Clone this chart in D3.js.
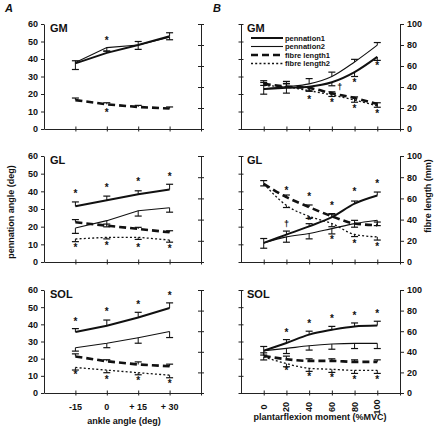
<!DOCTYPE html>
<html><head><meta charset="utf-8">
<script src="https://cdn.jsdelivr.net/npm/d3@7"></script>
<style>
body{margin:0;background:#fff;}
text{font-family:"Liberation Sans",Arial,sans-serif;fill:#111;}
</style></head><body><svg id="c" width="434" height="429"></svg>
<script>
// ---------- data ----------
const anglesA = [-15, 0, 15, 30];
const momentsB = [0, 20, 40, 60, 80, 100];
const muscles = ["GM", "GL", "SOL"];
const seriesNames = ["pennation1", "pennation2", "fibre length1", "fibre length2"];
const angleTickLabels = ["-15", "0", "+ 15", "+ 30"];
const momentTickLabels = ["0", "20", "40", "60", "80", "100"];

// Panel A (ankle angle) — pennation in deg, fibre length in mm
const gmA_pen1 = [37.5, 43.5, 48, 53];
const gmA_pen2 = [38, 46.5, 48, 52.5];
const gmA_fib1 = [27.5, 23.5, 21, 19.5];
const gmA_fib2 = null;
const gmA_pen1E = [1.5, 1, 2, 2];
const gmA_pen2E = [-4, -2, -2.5, -1.5];
const gmA_fib1E = [2, 1.5, 1.5, 1.5];
const gmA_fib2E = null;
const gmA_starPen = [null, 51.5, null, null];
const gmA_starFib = [null, 17, null, null];

const glA_pen1 = [31.5, 35, 38.3, 41];
const glA_pen2 = [19.2, 23.4, 29, 30.7];
const glA_fib1 = [37.5, 34.3, 31.2, 28];
const glA_fib2 = [21.7, 23.3, 23.3, 20.7];
const glA_pen1E = [2.5, 2.3, 2, 3];
const glA_pen2E = [-3, -3.5, -3, -2.5];
const glA_fib1E = [2.5, 1.5, 1.5, 1.5];
const glA_fib2E = [-2.5, -1.5, -2, -2];
const glA_starPen = [39.6, 43, 46.5, 49.5];
const glA_starFib = [14.7, 17.2, 15.3, 14.2];

const solA_pen1 = [35.5, 39.2, 44, 49.5];
const solA_pen2 = [26.4, 29, 32.2, 35.8];
const solA_fib1 = [35.5, 30.8, 27.7, 26];
const solA_fib2 = [24.8, 22.2, 19.7, 17.3];
const solA_pen1E = [2, 3.3, 3, 3];
const solA_pen2E = [-2, -2.6, -3.2, -3.5];
const solA_fib1E = [2.5, 1.5, 2.5, 2];
const solA_fib2E = [-2.5, -2.5, -2, -2.5];
const solA_starPen = [42.6, 48.4, 52.2, 57.7];
const solA_starFib = [19, 14.8, 13.2, 10.8];

// Panel B (plantarflexion moment)
const gmB_pen1 = [22.9, 23.5, 24.2, 26.7, 32.5, 41.2];
const gmB_pen2 = [22.9, 24.2, 25.8, 30, 38.3, 47.9];
const gmB_fib1 = [43, 40.4, 39, 34, 29.5, 23.7];
const gmB_fib2 = [41.3, 40, 36.5, 32.4, 27.6, 22];
const gmB_pen1E = [-3, -3, -2.5, -2, -2.5, -2];
const gmB_pen2E = [2, 3, 3, 2.5, 1.5, 1.5];
const gmB_fib1E = [3, 3, -3, -3, -4, -3];
const gmB_fib2E = [3, 3, 3, 3, 3, 3];
const gmB_starPen = [null, null, null, null, 27.7, 37.3];
const gmB_starFib = [null, null, 30, 27, 21, 16.3];
const gmB_dagger = [67, 41];

const glB_pen1 = [10.8, 15.5, 20.2, 25.4, 33, 37.6];
const glB_pen2 = [10.8, 14.2, 16.1, 18.9, 21.7, 23.6];
const glB_fib1 = [73.8, 61.2, 51.8, 43.1, 36.3, 34.7];
const glB_fib2 = [73.8, 53.4, 43.1, 36.3, 26, 23.7];
const glB_pen1E = [-3, 2, 1.5, 2, 1.5, 2];
const glB_pen2E = [2.5, -3, -3, -3, -2, -3];
const glB_fib1E = [3, 2, 2, 2, 3, 3];
const glB_fib2E = [-2, -2, -2, -3, -2, -3];
const glB_starPen = [null, null, null, null, null, null];
const glB_starFib = [null, 69, 62.8, 55, 67.5, 75.3];
const glB_starFib2 = [null, null, 41, 22.2, 19, 16];
const glB_dagger = [20, 36.8];

const solB_pen1 = [24.6, 29.1, 34, 36.8, 38.8, 39.3];
const solB_pen2 = [24.6, 26, 27.5, 28.5, 28.9, 28.9];
const solB_fib1 = [36, 32.8, 31.2, 31.2, 30.2, 30.2];
const solB_fib2 = [35.1, 28.5, 24, 23, 22, 22];
const solB_pen1E = [2.5, 2, 2, 2, 2, 2.5];
const solB_pen2E = [-2.5, -3, -2.5, -3, -3, -3];
const solB_fib1E = [3, 3, 2, 2, 2, 2];
const solB_fib2E = [-3, -3, -3, -3, -3, -3];
const solB_starPen = [null, null, null, null, null, null];
const solB_starFib = [null, 60, 68.8, 73.7, 77, 78.7];
const solB_starFib2 = [null, 23, 17.4, 16.4, 14.2, 14.2];

const penTicks = [0, 10, 20, 30, 40, 50, 60];
const fibTicks = [0, 20, 40, 60, 80, 100];

// ---------- drawing ----------
const svg = d3.select("#c");
const rows = [{top: 24, bot: 129}, {top: 156, bot: 262}, {top: 290, bot: 393}];
const xA = d3.scaleLinear().domain([-30, 45]).range([44, 201]);
const xB = d3.scaleLinear().domain([-20, 120]).range([241, 400]);

const styles = [
  {w: 2, dash: null},
  {w: 1.1, dash: null},
  {w: 2.6, dash: "7,4"},
  {w: 1.3, dash: "2,2.2"}
];

const panelsA = [
  {name: "GM", s: [gmA_pen1, gmA_pen2, gmA_fib1, gmA_fib2], e: [gmA_pen1E, gmA_pen2E, gmA_fib1E, gmA_fib2E], starPen: gmA_starPen, starFib: gmA_starFib},
  {name: "GL", s: [glA_pen1, glA_pen2, glA_fib1, glA_fib2], e: [glA_pen1E, glA_pen2E, glA_fib1E, glA_fib2E], starPen: glA_starPen, starFib: glA_starFib},
  {name: "SOL", s: [solA_pen1, solA_pen2, solA_fib1, solA_fib2], e: [solA_pen1E, solA_pen2E, solA_fib1E, solA_fib2E], starPen: solA_starPen, starFib: solA_starFib}
];
const panelsB = [
  {name: "GM", s: [gmB_pen1, gmB_pen2, gmB_fib1, gmB_fib2], e: [gmB_pen1E, gmB_pen2E, gmB_fib1E, gmB_fib2E], starPen: gmB_starPen, starFib: gmB_starFib, starFib2: null, dagger: gmB_dagger},
  {name: "GL", s: [glB_pen1, glB_pen2, glB_fib1, glB_fib2], e: [glB_pen1E, glB_pen2E, glB_fib1E, glB_fib2E], starPen: glB_starPen, starFib: glB_starFib, starFib2: glB_starFib2, dagger: glB_dagger},
  {name: "SOL", s: [solB_pen1, solB_pen2, solB_fib1, solB_fib2], e: [solB_pen1E, solB_pen2E, solB_fib1E, solB_fib2E], starPen: solB_starPen, starFib: solB_starFib, starFib2: solB_starFib2, dagger: null}
];

function styleAxis(g) {
  g.select(".domain").attr("stroke", "#222").attr("stroke-width", 1);
  g.selectAll(".tick line").attr("stroke", "#222");
  g.selectAll(".tick text").attr("font-size", 9).attr("font-weight", "bold")
    .attr("font-family", "Liberation Sans, Arial, sans-serif").attr("fill", "#111");
}

function drawPanel(p, i, isB) {
  const r = rows[i];
  const x = isB ? xB : xA;
  const xs = isB ? momentsB : anglesA;
  const [x0, x1] = x.range();
  const yP = d3.scaleLinear().domain([0, 60]).range([r.bot, r.top]);
  const yF = d3.scaleLinear().domain([0, 100]).range([r.bot, r.top]);
  const g = svg.append("g");

  // left axis
  const la = g.append("g").attr("transform", `translate(${x0},0)`)
    .call(d3.axisLeft(yP).tickValues(penTicks).tickSize(3).tickSizeOuter(0)
      .tickFormat(isB ? () => "" : d3.format("d")));
  styleAxis(la);
  la.selectAll(".tick text").attr("x", -6);
  if (isB) la.selectAll(".tick line").attr("x1", -2.5).attr("x2", 2.5);

  // right axis
  const ra = g.append("g").attr("transform", `translate(${x1},0)`)
    .call(d3.axisRight(yF).tickValues(fibTicks).tickSize(3).tickSizeOuter(0)
      .tickFormat(isB ? d3.format("d") : () => ""));
  styleAxis(ra);
  ra.selectAll(".tick text").attr("x", 7);
  if (!isB) ra.selectAll(".tick line").attr("x1", -3).attr("x2", 3);
  if (isB) ra.selectAll(".tick line").attr("x1", 0).attr("x2", 4);

  // x axis
  const xt = isB ? [0, 20, 40, 60, 80, 100, 120] : [-15, 0, 15, 30, 45];
  const xa = g.append("g").attr("transform", `translate(0,${r.bot})`)
    .call(d3.axisBottom(x).tickValues(xt).tickSize(3).tickSizeOuter(0).tickFormat(() => ""));
  styleAxis(xa);
  xa.selectAll(".tick line").attr("y1", -2.5).attr("y2", 2.5);

  if (i === 2) {
    if (!isB) {
      g.selectAll(".xl").data(anglesA).join("text")
        .attr("x", d => x(d)).attr("y", r.bot + 17).attr("text-anchor", "middle")
        .attr("font-size", 9).attr("font-weight", "bold")
        .text((d, k) => angleTickLabels[k]);
    } else {
      g.selectAll(".xl").data(momentsB).join("text")
        .attr("transform", d => `translate(${x(d) + 3},${r.bot + 14}) rotate(-90)`)
        .attr("text-anchor", "middle")
        .attr("font-size", 9).attr("font-weight", "bold")
        .text((d, k) => momentTickLabels[k]);
    }
  }

  // panel label
  g.append("text").attr("x", x0 + 6).attr("y", r.top + 8).attr("font-size", 11)
    .attr("font-weight", "bold").text(p.name);

  const curve = isB ? d3.curveMonotoneX : d3.curveLinear;
  // series
  p.s.forEach((vals, k) => {
    if (!vals) return;
    const y = k < 2 ? yP : yF;
    const st = styles[k];
    const line = d3.line().x((d, j) => x(xs[j])).y(d => y(d)).curve(curve);
    g.append("path").attr("d", line(vals)).attr("fill", "none").attr("stroke", "#111")
      .attr("stroke-width", st.w).attr("stroke-dasharray", st.dash);
    const errs = p.e[k];
    if (errs) {
      vals.forEach((v, j) => {
        const cx = x(xs[j]);
        const ya = y(v), yb = y(v + errs[j]);
        g.append("line").attr("x1", cx).attr("x2", cx).attr("y1", ya).attr("y2", yb)
          .attr("stroke", "#111").attr("stroke-width", 1);
        g.append("line").attr("x1", cx - 3.5).attr("x2", cx + 3.5).attr("y1", yb).attr("y2", yb)
          .attr("stroke", "#111").attr("stroke-width", 1.2);
      });
    }
  });

  // significance stars
  const starSets = [[p.starPen, yP], [p.starFib, yF], [p.starFib2, yF]];
  starSets.forEach(([arr, y]) => {
    if (!arr) return;
    arr.forEach((v, j) => {
      if (v == null) return;
      g.append("text").attr("x", x(xs[j])).attr("y", y(v) + 5).attr("text-anchor", "middle")
        .attr("font-size", 10).attr("font-weight", "bold").text("*");
    });
  });
  if (p.dagger) {
    g.append("text").attr("x", x(p.dagger[0])).attr("y", yF(p.dagger[1]) + 4)
      .attr("text-anchor", "middle").attr("font-size", 9).attr("font-weight", "bold").text("†");
  }
}

panelsA.forEach((p, i) => drawPanel(p, i, false));
panelsB.forEach((p, i) => drawPanel(p, i, true));

// legend (GM, panel B)
const lg = svg.append("g");
const legY = [38, 46.5, 55, 63.5];
seriesNames.forEach((n, k) => {
  const st = styles[k];
  lg.append("line").attr("x1", 251).attr("x2", 283).attr("y1", legY[k]).attr("y2", legY[k])
    .attr("stroke", "#111").attr("stroke-width", st.w).attr("stroke-dasharray", st.dash);
  lg.append("text").attr("x", 285).attr("y", legY[k] + 2.5).attr("font-size", 7.5)
    .attr("font-family", "Liberation Sans Narrow, Arial Narrow, sans-serif")
    .attr("font-weight", "bold").text(n);
});

// panel letters
svg.append("text").attr("x", 5).attr("y", 12).attr("font-size", 11).attr("font-weight", "bold")
  .attr("font-style", "italic").text("A");
svg.append("text").attr("x", 213).attr("y", 12).attr("font-size", 11).attr("font-weight", "bold")
  .attr("font-style", "italic").text("B");

// axis titles
svg.append("text").attr("transform", "translate(14,212) rotate(-90)").attr("text-anchor", "middle")
  .attr("font-size", 9).attr("font-weight", "bold").text("pennation angle (deg)");
svg.append("text").attr("transform", "translate(431,196) rotate(-90)").attr("text-anchor", "middle")
  .attr("font-size", 9).attr("font-weight", "bold").text("fibre length (mm)");
svg.append("text").attr("x", 124).attr("y", 424).attr("text-anchor", "middle")
  .attr("font-size", 9).attr("font-weight", "bold").text("ankle angle (deg)");
svg.append("text").attr("x", 320).attr("y", 420).attr("text-anchor", "middle")
  .attr("font-size", 9).attr("font-weight", "bold").text("plantarflexion moment (%MVC)");
</script></body></html>
